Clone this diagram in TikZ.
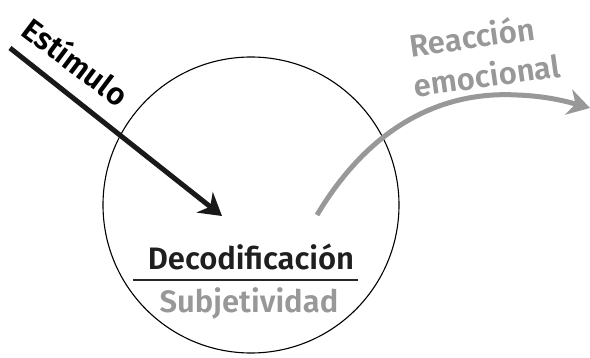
\documentclass[tikz,border=0pt]{standalone}
\usepackage{fontspec}
\setmainfont{Fira Sans}[BoldFont={Fira Sans SemiBold}]
\usetikzlibrary{arrows.meta}
\definecolor{softgray}{RGB}{152,152,152}
\tikzset{
  label txt/.style={font=\bfseries\fontsize{31}{33}\selectfont, inner sep=0pt},
  thick arrow/.style={line width=5pt, -{Stealth[length=22pt, width=26pt, inset=7pt]}}
}

\begin{document}
\begin{tikzpicture}[x=1pt, y=1pt]
			%%%%% START %%%%%
			\useasboundingbox (0, 0) rectangle (590, 357);
			
			\node[draw, circle, line width=1.1pt, minimum size=296, inner sep=0pt] (mind) at (251, 152) {};
			
			% stimulus
			\coordinate (stimA) at (10, 309);
			\coordinate (stimB) at (222, 141);
			\draw[thick arrow, color=black!90] (stimA) -- (stimB);
			\node[label txt, rotate=-37] (stim) at (76, 296) {Estímulo};
			
			% emotional reaction
			\coordinate (reacA) at (317, 142);
			\coordinate (reacP) at (517, 262);
			\coordinate (reacB) at (590, 249);
			\draw[thick arrow, color=softgray] (reacA) .. controls (372, 234) and (445, 266) .. (reacP)
				.. controls (545, 261) and (565, 256) .. (reacB);
			\node[label txt, color=softgray, rotate=8] (reac1) at (472, 321) {Reacción};
			\node[label txt, color=softgray, rotate=8] (reac2) at (487, 282) {emocional};
			
			% inside
			\node[label txt, color=black!88] (deco) at (251, 100) {Decodificación};
			\coordinate (lineA) at (133, 77);
			\coordinate (lineB) at (358, 77);
			\draw[line width=1.3pt, color=black!85] (lineA) -- (lineB);
			\node[label txt, color=softgray] (subj) at (249, 54) {Subjetividad};
			
			%%%%% END %%%%%
\end{tikzpicture}
\end{document}
